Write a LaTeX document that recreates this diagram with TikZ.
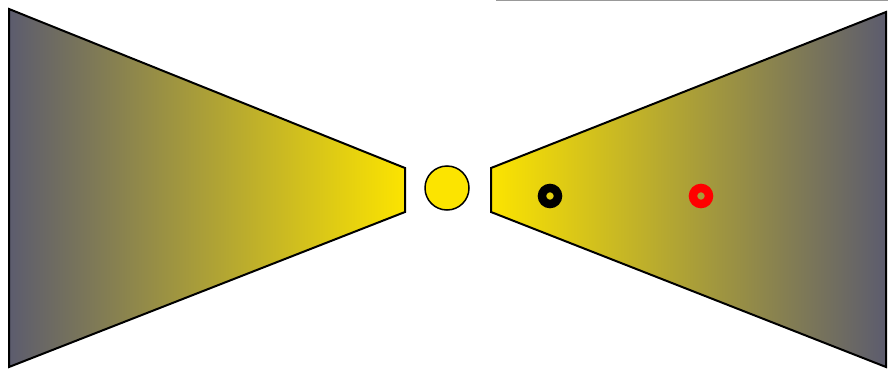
\documentclass[tikz,border=0pt]{standalone}
\usetikzlibrary{shadings}
\definecolor{cgray}{RGB}{92,92,110}
\definecolor{cyel}{RGB}{252,228,0}
\definecolor{cred}{RGB}{255,0,0}
\begin{document}
\begin{tikzpicture}[x=1pt,y=-1pt,
  horn/.style={draw=black,line width=2pt,line join=miter},
  ring/.style={line width=8.5pt}]
\useasboundingbox (0,0) rectangle (888,372);
\draw[gray!80,line width=1.5pt] (496,0.5) -- (888,0.5);
\path[horn,left color=cgray,right color=cyel]
  (9,9) -- (405,168) -- (405,212) -- (9,367) -- cycle;
\path[horn,left color=cyel,right color=cgray]
  (491,168) -- (886,12) -- (886,367) -- (491,212) -- cycle;
\node[circle,draw=black,line width=1.5pt,fill=cyel,minimum size=44pt,inner sep=0pt] (sun) at (447,188) {};
\draw[ring,black] (550,196) circle (8);
\draw[ring,cred] (701,196) circle (8);
\end{tikzpicture}
\end{document}
